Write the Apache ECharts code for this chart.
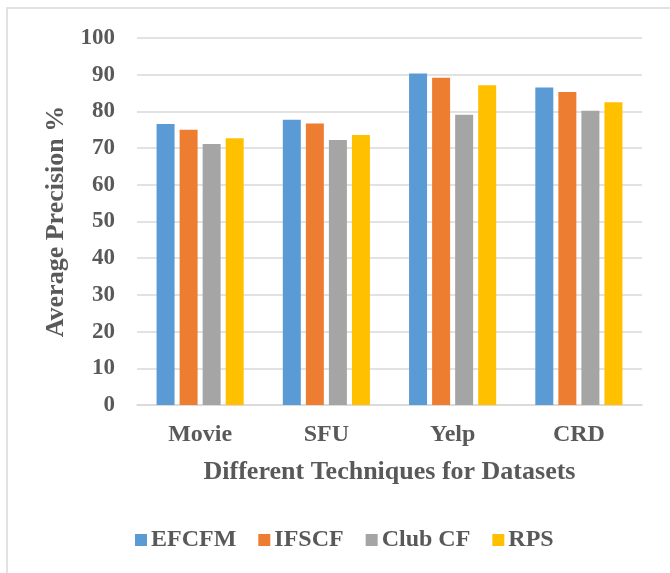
<!DOCTYPE html>
<html>
<head>
<meta charset="utf-8">
<script src="https://cdn.jsdelivr.net/npm/echarts@6/dist/echarts.min.js"></script>
<style>html,body{margin:0;padding:0;background:#fff}#c{width:670px;height:573px}</style>
</head>
<body>
<div id="c"></div>
<script>
var categories = ['Movie', 'SFU', 'Yelp', 'CRD'];
var seriesNames = ['EFCFM', 'IFSCF', 'Club CF', 'RPS'];
var efcfm = [76.6, 77.7, 90.3, 86.5];
var ifscf = [75.0, 76.7, 89.2, 85.3];
var clubcf = [71.1, 72.2, 79.1, 80.2];
var rps = [72.7, 73.6, 87.1, 82.5];
var yTicks = [0, 100, 10];
var colors = ['#5b9bd5', '#ed7d31', '#a5a5a5', '#ffc000'];
var values = [efcfm, ifscf, clubcf, rps];

var font = '"Liberation Serif", "Times New Roman", serif';
var chart = echarts.init(document.getElementById('c'));
chart.setOption({
  animation: false,
  backgroundColor: '#fff',
  graphic: [{
    type: 'rect', shape: { x: 7, y: 8, width: 700, height: 620 },
    style: { fill: 'none', stroke: '#d9d9d9', lineWidth: 1.5 }, silent: true
  }],
  grid: { left: 137, right: 28, top: 38, bottom: 168, containLabel: false },
  legend: {
    left: 130, top: 523, itemWidth: 12, itemHeight: 12, itemGap: 22,
    icon: 'rect',
    textStyle: { fontFamily: font, fontWeight: 'bold', fontSize: 24, color: '#595959', padding: [0, 0, 0, -1] },
    data: seriesNames
  },
  xAxis: {
    type: 'category', data: categories,
    axisTick: { show: false },
    axisLine: { lineStyle: { color: '#d9d9d9', width: 1.5 } },
    axisLabel: { fontFamily: font, fontWeight: 'bold', fontSize: 24, color: '#595959', margin: 18 },
    name: 'Different Techniques for Datasets', nameLocation: 'middle', nameGap: 54,
    nameTextStyle: { fontFamily: font, fontWeight: 'bold', fontSize: 26, color: '#595959' }
  },
  yAxis: {
    type: 'value', min: yTicks[0], max: yTicks[1], interval: yTicks[2],
    axisLine: { show: false }, axisTick: { show: false },
    splitLine: { lineStyle: { color: '#d9d9d9', width: 1.5 } },
    axisLabel: { fontFamily: font, fontWeight: 'bold', fontSize: 23, color: '#595959', margin: 22 },
    name: 'Average Precision %', nameLocation: 'middle', nameGap: 65,
    nameTextStyle: { fontFamily: font, fontWeight: 'bold', fontSize: 26, color: '#595959' }
  },
  series: seriesNames.map(function (n, i) {
    return {
      name: n, type: 'bar', data: values[i], barWidth: 18, barGap: '28%',
      itemStyle: { color: colors[i] }
    };
  })
});
</script>
</body>
</html>
